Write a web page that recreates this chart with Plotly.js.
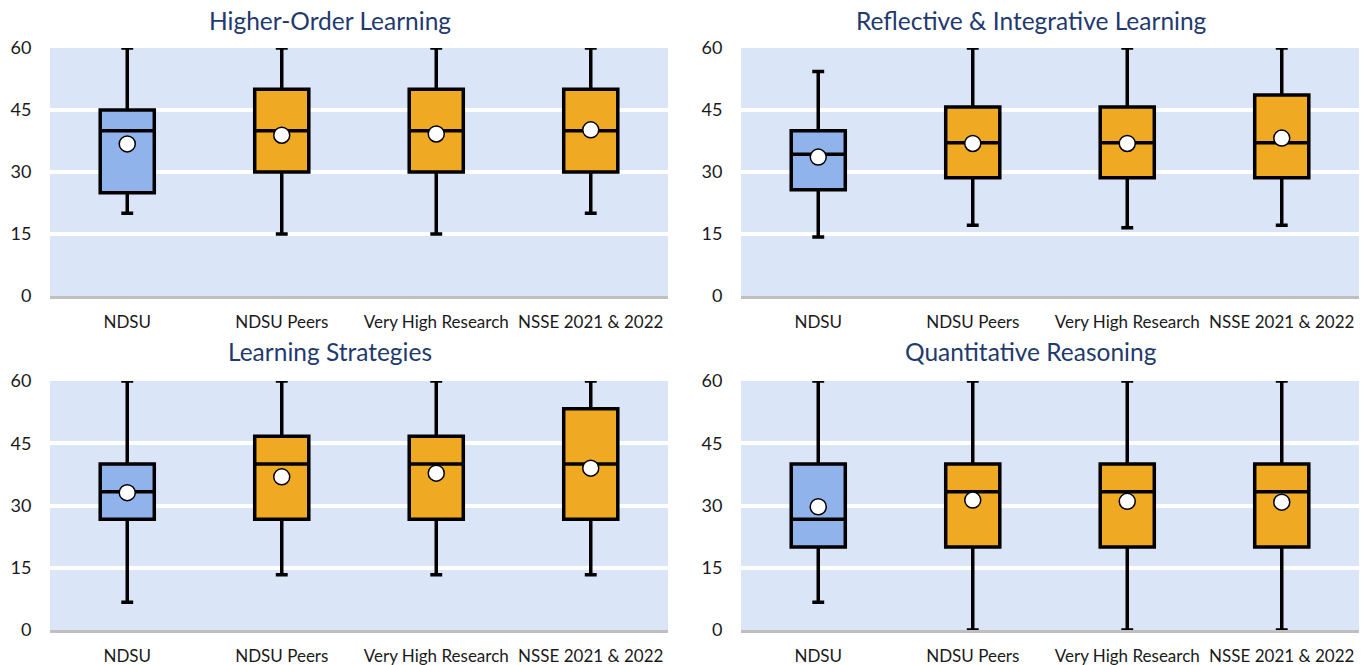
<!DOCTYPE html>
<html>
<head>
<meta charset="utf-8">
<script src="https://cdn.plot.ly/plotly-3.0.1.min.js"></script>
<style>html,body{margin:0;padding:0;background:#fff;}#chart{width:1361px;height:665px;}</style>
</head>
<body>
<div id="chart"></div>
<script>
// ---- Data ----
const categories = ['NDSU', 'NDSU Peers', 'Very High Research', 'NSSE 2021 & 2022'];
const panelTitles = ['Higher-Order Learning', 'Reflective & Integrative Learning', 'Learning Strategies', 'Quantitative Reasoning'];
const yTicks = [0, 15, 30, 45, 60];

// Higher-Order Learning
const holLow  = [20, 15, 15, 20];
const holQ1   = [25, 30, 30, 30];
const holMed  = [40, 40, 40, 40];
const holQ3   = [45, 50, 50, 50];
const holHigh = [60, 60, 60, 60];
const holMean = [36.8, 38.9, 39.2, 40.2];

// Reflective & Integrative Learning
const riLow  = [14.3, 17.1, 16.5, 17.1];
const riQ1   = [25.7, 28.6, 28.6, 28.6];
const riMed  = [34.3, 37.1, 37.1, 37.1];
const riQ3   = [40.0, 45.7, 45.7, 48.6];
const riHigh = [54.3, 60, 60, 60];
const riMean = [33.6, 36.9, 36.9, 38.2];

// Learning Strategies
const lsLow  = [6.7, 13.3, 13.3, 13.3];
const lsQ1   = [26.7, 26.7, 26.7, 26.7];
const lsMed  = [33.3, 40, 40, 40];
const lsQ3   = [40, 46.7, 46.7, 53.3];
const lsHigh = [60, 60, 60, 60];
const lsMean = [33.1, 36.9, 37.8, 39.0];

// Quantitative Reasoning
const qrLow  = [6.7, 0, 0, 0];
const qrQ1   = [20, 20, 20, 20];
const qrMed  = [26.7, 33.3, 33.3, 33.3];
const qrQ3   = [40, 40, 40, 40];
const qrHigh = [60, 60, 60, 60];
const qrMean = [29.7, 31.3, 31.0, 30.8];

const panels = [
  {low: holLow, q1: holQ1, med: holMed, q3: holQ3, high: holHigh, mean: holMean},
  {low: riLow,  q1: riQ1,  med: riMed,  q3: riQ3,  high: riHigh,  mean: riMean},
  {low: lsLow,  q1: lsQ1,  med: lsMed,  q3: lsQ3,  high: lsHigh,  mean: lsMean},
  {low: qrLow,  q1: qrQ1,  med: qrMed,  q3: qrQ3,  high: qrHigh,  mean: qrMean}
];

// ---- Styles ----
const W = 1361, H = 665;
const blueFill = '#8FB3EA';
const orangeFill = '#F0A923';
const bgBand = '#DAE5F7';
const titleColor = '#1F3A6E';
const fontFam = 'Lato, "Open Sans", sans-serif';

const xDomains = [[50 / W, 668 / W], [741 / W, 1359 / W]];
const yDomains = [[1 - 296 / H, 1 - 48 / H], [1 - 630 / H, 1 - 381 / H]];
const titlePos = [[330 / W, 1 - 20 / H], [1031 / W, 1 - 20 / H], [330 / W, 1 - 351 / H], [1031 / W, 1 - 351 / H]];

const traces = [];
const layout = {
  width: W, height: H,
  margin: {l: 0, r: 0, t: 0, b: 0},
  paper_bgcolor: '#ffffff',
  plot_bgcolor: bgBand,
  showlegend: false,
  boxmode: 'overlay',
  annotations: []
};

panels.forEach((p, i) => {
  const sfx = i === 0 ? '' : String(i + 1);
  const xa = 'x' + sfx, ya = 'y' + sfx;
  const col = i % 2, row = Math.floor(i / 2);
  const groups = [
    {idx: [0], fill: blueFill},
    {idx: [1, 2, 3], fill: orangeFill}
  ];
  groups.forEach(g => {
    traces.push({
      type: 'box',
      xaxis: xa, yaxis: ya,
      x: g.idx.map(k => categories[k]),
      q1: g.idx.map(k => p.q1[k]),
      median: g.idx.map(k => p.med[k]),
      q3: g.idx.map(k => p.q3[k]),
      lowerfence: g.idx.map(k => p.low[k]),
      upperfence: g.idx.map(k => p.high[k]),
      fillcolor: g.fill,
      line: {color: '#000000', width: 3.5},
      width: 0.35,
      whiskerwidth: 0.22,
      boxpoints: false,
      hoverinfo: 'skip'
    });
  });
  traces.push({
    type: 'scatter', mode: 'markers',
    xaxis: xa, yaxis: ya,
    x: categories, y: p.mean,
    marker: {symbol: 'circle', size: 16, color: '#ffffff', line: {color: '#000000', width: 1.5}},
    hoverinfo: 'skip'
  });

  layout['xaxis' + sfx] = {
    domain: xDomains[col],
    anchor: ya,
    type: 'category',
    categoryorder: 'array',
    categoryarray: categories,
    range: [-0.5, 3.5],
    showgrid: false,
    zeroline: false,
    showline: true,
    linecolor: '#BFBFBF',
    linewidth: 3,
    ticks: 'outside',
    ticklen: 9,
    tickcolor: 'rgba(0,0,0,0)',
    tickfont: {family: fontFam, size: 17, color: '#1a1a1a'},
    fixedrange: true
  };
  layout['yaxis' + sfx] = {
    domain: yDomains[row],
    anchor: xa,
    range: [0, 60],
    tickvals: yTicks,
    ticktext: yTicks.map(String),
    showgrid: true,
    gridcolor: '#ffffff',
    gridwidth: 4,
    zeroline: false,
    showline: false,
    ticks: 'outside',
    ticklen: 14,
    tickcolor: 'rgba(0,0,0,0)',
    tickfont: {family: fontFam, size: 18, color: '#1a1a1a'},
    fixedrange: true
  };
  layout.annotations.push({
    xref: 'paper', yref: 'paper',
    x: titlePos[i][0], y: titlePos[i][1],
    xanchor: 'center', yanchor: 'middle',
    text: panelTitles[i],
    showarrow: false,
    font: {family: fontFam, size: 24.5, color: titleColor}
  });
});

Plotly.newPlot('chart', traces, layout, {displayModeBar: false, staticPlot: true});
</script>
</body>
</html>
